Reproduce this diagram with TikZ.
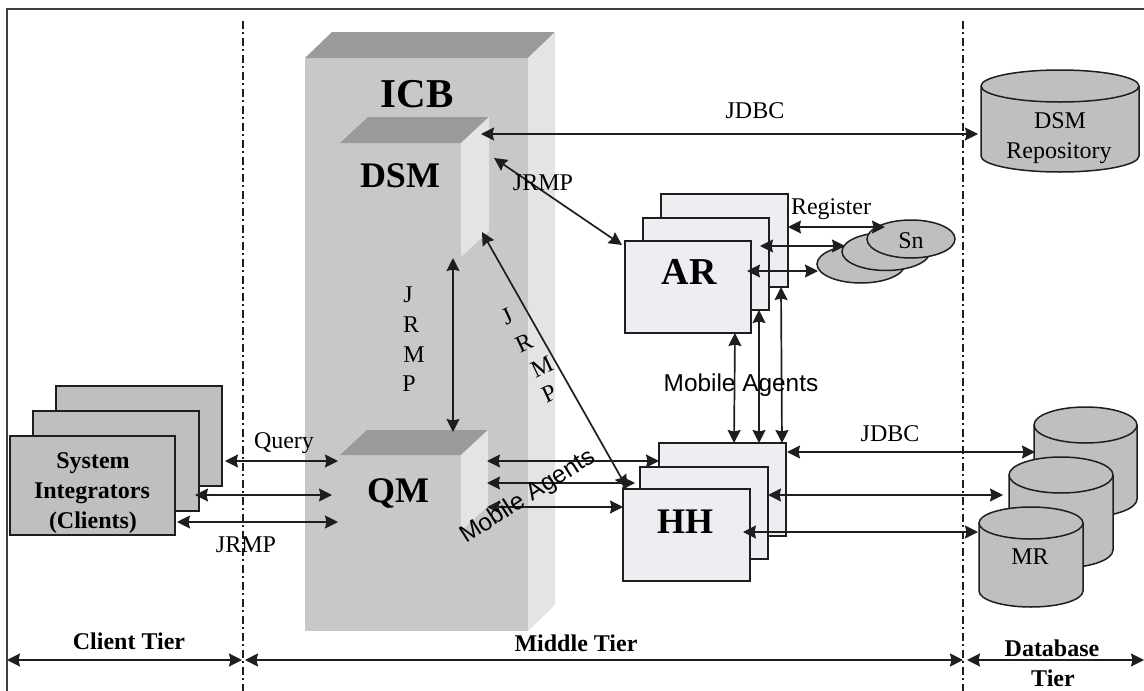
\documentclass[tikz,border=0pt]{standalone}
\usepackage{fontspec}
\setmainfont{Liberation Serif}
\newfontfamily\sansf{Liberation Sans}
\usetikzlibrary{arrows.meta,shapes.geometric}
\definecolor{inkc}{HTML}{1E1E1E}
\definecolor{frontc}{HTML}{C9C7CA}
\definecolor{topc}{HTML}{9B999C}
\definecolor{sidec}{HTML}{E6E3E7}
\definecolor{paperc}{HTML}{EFEDF1}
\definecolor{greyc}{HTML}{C0BEC1}
\tikzset{
  pxbase/.style={rectangle,inner sep=0pt,outer sep=0pt},
  face/.style={pxbase,fill=frontc},
  sheet/.style={pxbase,draw=inkc,line width=1.6pt,fill=paperc},
  greysheet/.style={pxbase,draw=inkc,line width=1.6pt,fill=greyc},
  blob/.style={ellipse,inner sep=0pt,outer sep=0pt,draw=inkc,line width=1.5pt,fill=greyc},
  twoway/.style={{Stealth[length=13pt,width=13pt,inset=1.5pt]}-{Stealth[length=13pt,width=13pt,inset=1.5pt]},draw=inkc,line width=1.7pt},
  divider/.style={draw=inkc,line width=1.4pt,dash pattern=on 8pt off 3pt on 2pt off 4pt},
  rimline/.style={draw=black!75,line width=2.2pt},
  txt/.style={inner sep=0pt,outer sep=0pt,anchor=base,font=\fontsize{24}{26}\selectfont},
  btxt/.style={txt,font=\fontsize{24}{26}\selectfont\bfseries},
  big/.style={txt,font=\fontsize{36}{38}\selectfont\bfseries},
  sans/.style={txt,font=\fontsize{24.4}{26}\selectfont\sansf},
}
\newcommand\pxbox[6]{\node[#6,minimum width={(#4-#2)*1pt},minimum height={(#5-#3)*1pt}] (#1) at ({(#2+#4)/2},{(#3+#5)/2}) {};}
\newcommand\cube[3]{%
  \fill[topc] (#1.north west) -- ++(#2,-#3) -- ([shift={(#2,-#3)}]#1.north east) -- (#1.north east) -- cycle;
  \fill[sidec] (#1.north east) -- ([shift={(#2,-#3)}]#1.north east) -- ([shift={(#2,-#3)}]#1.south east) -- (#1.south east) -- cycle;}
% name x1 y1 x2 y2 ry
\newcommand\pxcyl[6]{%
  \draw[draw=inkc,line width=1.5pt,fill=greyc] (#2,#3+#6) -- (#2,#5-#6)
     arc[start angle=180,end angle=360,x radius={(#4-#2)/2*1pt},y radius=#6pt]
     -- (#4,#3+#6) arc[start angle=0,end angle=180,x radius={(#4-#2)/2*1pt},y radius=#6pt] -- cycle;
  \draw[draw=inkc,line width=1.5pt] (#2,#3+#6) arc[start angle=180,end angle=360,x radius={(#4-#2)/2*1pt},y radius=#6pt];
  \node[pxbase,minimum width={(#4-#2)*1pt},minimum height={(#5-#3)*1pt}] (#1) at ({(#2+#4)/2},{(#3+#5)/2}) {};}
\begin{document}
\begin{tikzpicture}[x=1pt,y=-1pt]
\useasboundingbox (0,0) rectangle (1144,691);
\fill[white] (0,0) rectangle (1144,691);
% frame
\coordinate (fbl) at (7,691); \coordinate (ftl) at (7,9); \coordinate (ftr) at (1144,9);
\draw[rimline] (fbl) -- (ftl) -- (ftr);
% ICB
\pxbox{icb}{305}{58}{528}{631}{face}
\cube{icb}{27}{26}
\pxbox{dsm}{340}{143}{461}{257}{face}
\cube{dsm}{28}{26}
\pxbox{qm}{340}{455}{461}{531}{face}
\cube{qm}{27}{25}
% dividers
\coordinate (divAt) at (243,21); \coordinate (divAb) at (243,691);
\coordinate (divBt) at (963,21); \coordinate (divBb) at (963,691);
\draw[divider] (divAt) -- (divAb);
\draw[divider] (divBt) -- (divBb);
% stacks
\pxbox{cliA}{56}{386}{222}{486}{greysheet}
\pxbox{cliB}{33}{411}{199}{511}{greysheet}
\pxbox{cliC}{10}{436}{175}{535}{greysheet}
\pxbox{arA}{661}{194}{788}{287}{sheet}
\pxbox{arB}{643}{218}{769}{310}{sheet}
\pxbox{arC}{625}{241}{751}{333}{sheet}
\pxbox{hhA}{659}{443}{786}{536}{sheet}
\pxbox{hhB}{640}{467}{768}{559}{sheet}
\pxbox{hhC}{623}{489}{750}{581}{sheet}
% sensors
\node[blob,minimum width=88pt,minimum height=38pt] (snC) at (861,264) {};
\node[blob,minimum width=88pt,minimum height=38pt] (snB) at (886,251.5) {};
\node[blob,minimum width=88pt,minimum height=38pt] (snA) at (911,239) {};
% cylinders
\pxcyl{rep}{981}{70}{1139}{172}{16}
\pxcyl{mrA}{1034}{407}{1137}{517}{18}
\pxcyl{mrB}{1009}{457}{1113}{568}{18}
\pxcyl{mrC}{979}{507}{1083}{607}{16}
% connectors
\draw[twoway] ([shift={(20,-9)}]dsm.north east) -- ([shift={(-3,13)}]rep.west);
\draw[twoway] ([shift={(33,15)}]dsm.north east) -- ([shift={(-3,4)}]arC.north west);
\draw[twoway] ([shift={(21,-25)}]dsm.south east) -- ([shift={(4,-1)}]hhC.north west);
\draw[twoway] ([shift={(-8,1)}]dsm.south east) -- ([shift={(-8,-23)}]qm.north east);
\draw[twoway] ([shift={(3,25)}]cliA.east) -- ([shift={(-2,-32)}]qm.west);
\draw[twoway] ([shift={(-4,34)}]cliB.east) -- ([shift={(-8,2)}]qm.west);
\draw[twoway] ([shift={(2,36.5)}]cliC.east) -- ([shift={(-2,29)}]qm.west);
\draw[twoway] ([shift={(26,6)}]qm.north east) -- ([shift={(0,18)}]hhA.north west);
\draw[twoway] ([shift={(26,-10)}]qm.east) -- ([shift={(-5,16)}]hhB.north west);
\draw[twoway] ([shift={(26,14)}]qm.east) -- ([shift={(0,18)}]hhC.north west);
\draw[twoway] ([shift={(-16,0)}]arC.south east) -- ([shift={(-52,0)}]hhA.north east);
\draw[twoway] ([shift={(-10,0)}]arB.south east) -- ([shift={(-27,0)}]hhA.north east);
\draw[twoway] ([shift={(-7,0)}]arA.south east) -- ([shift={(-4,0)}]hhA.north east);
\draw[twoway] ([shift={(0,-13.5)}]arA.east) -- ([shift={(18,-12)}]snA.west);
\draw[twoway] ([shift={(-9,-18)}]arB.east) -- ([shift={(3,-5.5)}]snB.west);
\draw[twoway] ([shift={(-4,-16)}]arC.east) -- ([shift={(1,7)}]snC.west);
\draw[twoway] ([shift={(1,9)}]hhA.north east) -- ([shift={(1,-10)}]mrA.west);
\draw[twoway] ([shift={(0,-18)}]hhB.east) -- ([shift={(-6,-17.5)}]mrB.west);
\draw[twoway] ([shift={(-7,-3)}]hhC.east) -- ([shift={(-1,-25)}]mrC.west);
% tier arrows
\coordinate (tL) at (7,660); \coordinate (tA) at (242,660); \coordinate (tA2) at (245,660);
\coordinate (tB) at (963,660); \coordinate (tB2) at (967,660); \coordinate (tR) at (1144,660);
\draw[twoway] (tL) -- (tA);
\draw[twoway] (tA2) -- (tB);
\draw[twoway] (tB2) -- (tR);
% labels
\node[big,font=\fontsize{41}{43}\selectfont\bfseries] (lICB) at (417,107) {ICB};
\node[big] (lDSM) at (400,187) {DSM};
\node[big] (lQM) at (398,502) {QM};
\node[big,font=\fontsize{38}{40}\selectfont\bfseries] (lAR) at (689,284) {AR};
\node[big] (lHH) at (685,533) {HH};
\node[txt] (lSn) at (911,248) {Sn};
\node[txt] (lReg) at (831,214) {Register};
\node[sans] (lMA1) at (741,391) {Mobile Agents};
\node[sans,anchor=center,rotate=32.6] (lMA2) at (528,497) {Mobile Agents};
\node[txt] (lJ1) at (755,118) {JDBC};
\node[txt] (lJ2) at (890,441) {JDBC};
\node[txt] (lQ) at (284,448) {Query};
\node[txt] (lJR1) at (246,552) {JRMP};
\node[txt] (lJR2) at (543,190) {JRMP};
\node[txt] (vJ) at (408,302) {J};
\node[txt] (vR) at (411,332) {R};
\node[txt] (vM) at (414,362) {M};
\node[txt] (vP) at (409,391) {P};
\node[txt,anchor=center,rotate=25] (dJ) at (507,317) {J};
\node[txt,anchor=center,rotate=25] (dR) at (524,343) {R};
\node[txt,anchor=center,rotate=25] (dM) at (542,367) {M};
\node[txt,anchor=center,rotate=25] (dP) at (549,394) {P};
\node[btxt] (lS1) at (93,468) {System};
\node[btxt] (lS2) at (92,498) {Integrators};
\node[btxt] (lS3) at (93,528) {(Clients)};
\node[btxt] (lCT) at (129,649) {Client Tier};
\node[btxt] (lMT) at (576,651) {Middle Tier};
\node[btxt] (lDB) at (1052,656) {Database};
\node[btxt] (lTi) at (1053,686) {Tier};
\node[txt] (lMR) at (1030,564) {MR};
\node[txt] (lR1) at (1060,128) {DSM};
\node[txt] (lR2) at (1059,158) {Repository};
\end{tikzpicture}
\end{document}
